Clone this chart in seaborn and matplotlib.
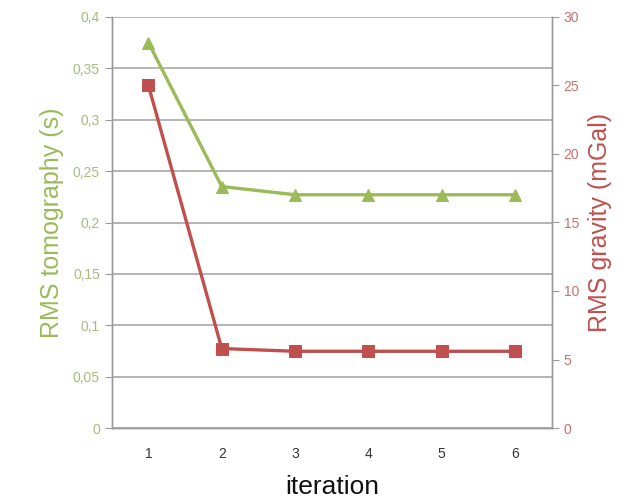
import pandas as pd
import numpy as np
import matplotlib
matplotlib.use("Agg")
import matplotlib.pyplot as plt
import seaborn as sns

iterations = [1, 2, 3, 4, 5, 6]
rms_tomo = [0.375, 0.235, 0.227, 0.227, 0.227, 0.227]
rms_gravity = [25.0, 5.8, 5.6, 5.6, 5.6, 5.6]

left_ticks = [0, 0.05, 0.1, 0.15, 0.2, 0.25, 0.3, 0.35, 0.4]
left_labels = ["0", "0,05", "0,1", "0,15", "0,2", "0,25", "0,3", "0,35", "0,4"]
right_ticks = [0, 5, 10, 15, 20, 25, 30]

green = "#9BBB59"
red = "#C0504D"
grey = "#9A9A9A"

df = pd.DataFrame({
    "iteration": iterations,
    "tomo": rms_tomo,
    "gravity": rms_gravity
})

sns.set_style("white")
plt.rcParams["font.family"] = ["Liberation Sans", "DejaVu Sans"]

fig = plt.figure(figsize=(6.35, 5), dpi=100)
ax = fig.add_axes([0.176, 0.144, 0.693, 0.822])
ax2 = ax.twinx()

sns.lineplot(
    data=df, x="iteration", y="tomo", ax=ax,
    color=green, linewidth=2.4, marker="^",
    markersize=9, markeredgecolor=green
)

sns.lineplot(
    data=df, x="iteration", y="gravity", ax=ax2,
    color=red, linewidth=2.4, marker="s",
    markersize=8, markeredgecolor=red
)

ax.set_xlim(0.5, 6.5)
ax.set_ylim(0, 0.4)
ax2.set_ylim(0, 30)

ax.set_yticks(left_ticks)
ax.set_yticklabels(left_labels)
ax2.set_yticks(right_ticks)

ax.set_xticks(iterations)
ax.set_xticks(np.arange(0.5, 7, 1), minor=True)
ax.tick_params(axis="x", which="major", length=0, pad=14,
               labelsize=10, labelcolor="#333333")
ax.tick_params(axis="x", which="minor", length=4, color=grey,
               direction="inout")

ax.tick_params(axis="y", length=5, color=grey, labelsize=10,
               labelcolor="#A8BC7E")
ax2.tick_params(axis="y", length=5, color=grey, labelsize=10,
                labelcolor="#C8706D")

ax.yaxis.grid(True, color="#A0A0A0", linewidth=1.1)
ax.set_axisbelow(True)

for a in (ax, ax2):
    for side in ("left", "right", "bottom"):
        a.spines[side].set_color(grey)
        a.spines[side].set_linewidth(1.0)
    a.spines["top"].set_visible(False)

ax.set_xlabel("iteration", fontsize=19, color="#111111", labelpad=10)
ax.set_ylabel("RMS tomography (s)", fontsize=18, color=green, labelpad=6)
ax2.set_ylabel("RMS gravity (mGal)", fontsize=18, color=red, labelpad=6)

fig.savefig("out.png", dpi=100)
